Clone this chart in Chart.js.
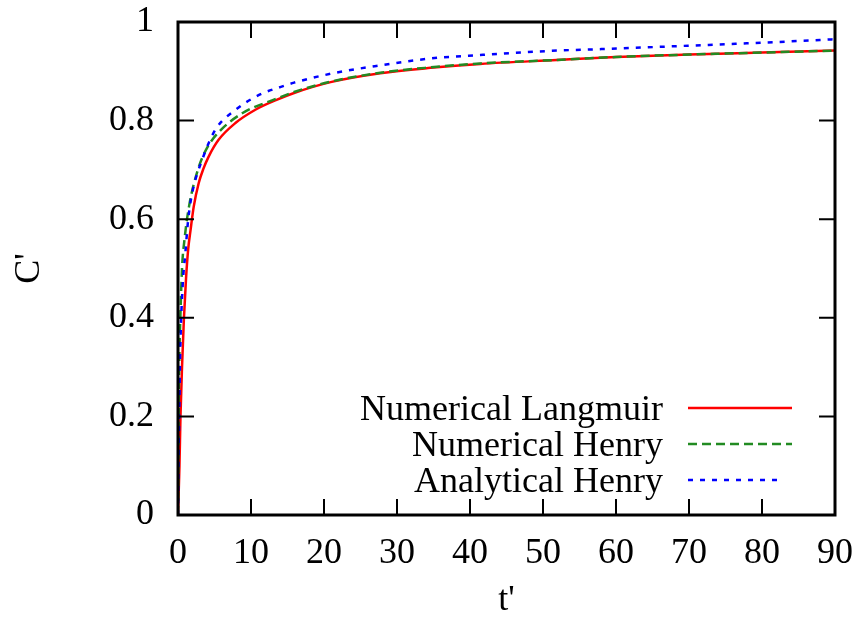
<!DOCTYPE html>
<html>
<head>
<meta charset="utf-8">
<script src="https://cdn.jsdelivr.net/npm/chart.js@4/dist/chart.umd.min.js"></script>
<style>
  html, body { margin: 0; padding: 0; background: #fff; }
  #wrap { width: 860px; height: 619px; }
</style>
</head>
<body>
<div id="wrap"><canvas id="concChart"></canvas></div>
<script>
// t' values and C' values
const tLangmuir = [0, 0.1, 0.2, 0.34, 0.55, 0.8, 1.1, 1.4, 1.72, 2.15, 2.83, 3.5, 4.2, 5.56, 7.86, 10.6, 13.5, 15.9, 20.9, 27.7, 34.6, 41.4, 51.9, 60, 70, 80, 90];
const cLangmuir = [0, 0.05, 0.1, 0.2, 0.3, 0.395, 0.48, 0.54, 0.578, 0.625, 0.673, 0.703, 0.727, 0.761, 0.795, 0.822, 0.842, 0.856, 0.878, 0.896, 0.907, 0.915, 0.923, 0.929, 0.934, 0.938, 0.942];

const tHenryNum = [0, 0.05, 0.1, 0.2, 0.3, 0.55, 0.9, 1.5, 2.85, 4, 5.6, 8.8, 13.4, 15.9, 20.9, 27.7, 34.6, 41.4, 51.9, 60, 70, 80, 90];
const cHenryNum = [0, 0.1, 0.22, 0.33, 0.39, 0.5, 0.56, 0.625, 0.706, 0.745, 0.777, 0.815, 0.844, 0.858, 0.879, 0.897, 0.908, 0.916, 0.923, 0.929, 0.934, 0.938, 0.942];

const tHenryAna = [0, 0.08, 0.15, 0.3, 0.63, 1.0, 1.4, 1.94, 3.3, 5.1, 7.9, 11.1, 14, 15.9, 20.9, 27.7, 34.6, 41.4, 51.9, 58, 70, 80, 90];
const cHenryAna = [0, 0.12, 0.19, 0.33, 0.463, 0.53, 0.6, 0.653, 0.72, 0.781, 0.822, 0.852, 0.868, 0.877, 0.895, 0.912, 0.926, 0.933, 0.942, 0.945, 0.952, 0.958, 0.965];

const seriesLabels = ['Numerical Langmuir', 'Numerical Henry', 'Analytical Henry'];
const xTicks = [0, 10, 20, 30, 40, 50, 60, 70, 80, 90];
const yTicks = [0, 0.2, 0.4, 0.6, 0.8, 1];

const FONT = "'Liberation Serif', 'Times New Roman', serif";
const FSIZE = 36;

function toPoints(ts, cs) {
    return ts.map((t, i) => ({ x: t, y: cs[i] }));
}

// gnuplot-style frame with inward ticks on all four sides
const frameTicks = {
    id: 'frameTicks',
    afterDatasetsDraw(chart) {
        const { ctx, chartArea: a, scales: { x, y } } = chart;
        const len = 16;
        ctx.save();
        ctx.strokeStyle = '#000';
        ctx.lineWidth = 2;
        ctx.beginPath();
        xTicks.forEach(v => {
            const px = x.getPixelForValue(v);
            ctx.moveTo(px, a.bottom); ctx.lineTo(px, a.bottom - len);
            ctx.moveTo(px, a.top); ctx.lineTo(px, a.top + len);
        });
        yTicks.forEach(v => {
            const py = y.getPixelForValue(v);
            ctx.moveTo(a.left, py); ctx.lineTo(a.left + len, py);
            ctx.moveTo(a.right, py); ctx.lineTo(a.right - len, py);
        });
        ctx.stroke();
        ctx.lineWidth = 3;
        ctx.strokeRect(a.left, a.top, a.right - a.left, a.bottom - a.top);
        ctx.restore();
    }
};

// key in the lower right, text right-aligned before the line sample
const keyBox = {
    id: 'keyBox',
    afterDraw(chart) {
        const { ctx, chartArea: a } = chart;
        const textRight = a.right - 172;
        const lineStart = a.right - 147;
        const lineEnd = a.right - 43;
        ctx.save();
        ctx.font = FSIZE + 'px ' + FONT;
        ctx.textAlign = 'right';
        ctx.textBaseline = 'alphabetic';
        chart.data.datasets.forEach((ds, i) => {
            const yl = a.bottom - 107 + i * 36;
            ctx.fillStyle = '#000';
            ctx.fillText(ds.label, textRight, yl + 12);
            ctx.strokeStyle = ds.borderColor;
            ctx.lineWidth = ds.borderWidth;
            ctx.setLineDash(ds.borderDash || []);
            ctx.beginPath();
            ctx.moveTo(lineStart, yl);
            ctx.lineTo(i === 2 ? lineEnd - 9 : lineEnd, yl);
            ctx.stroke();
        });
        ctx.restore();
    }
};

document.addEventListener('DOMContentLoaded', function () {
    const ctx = document.getElementById('concChart');
    new Chart(ctx, {
        type: 'line',
        data: {
            datasets: [{
                label: seriesLabels[0],
                data: toPoints(tLangmuir, cLangmuir),
                borderColor: '#ff0000',
                borderWidth: 2.5,
                order: 3
            }, {
                label: seriesLabels[1],
                data: toPoints(tHenryNum, cHenryNum),
                borderColor: '#228b22',
                borderWidth: 2.5,
                borderDash: [9, 5],
                order: 2
            }, {
                label: seriesLabels[2],
                data: toPoints(tHenryAna, cHenryAna),
                borderColor: '#0000ff',
                borderWidth: 2.5,
                borderDash: [5, 7],
                order: 1
            }]
        },
        options: {
            responsive: true,
            maintainAspectRatio: false,
            animation: false,
            events: [],
            elements: {
                point: { radius: 0 },
                line: { cubicInterpolationMode: 'monotone', fill: false }
            },
            layout: { padding: { left: 0, top: 22, right: 25, bottom: 0 } },
            plugins: {
                legend: { display: false },
                tooltip: { enabled: false }
            },
            scales: {
                x: {
                    type: 'linear',
                    min: 0,
                    max: 90,
                    afterFit: function (scale) {
                        scale.height = 104;
                        scale.paddingLeft = 0;
                        scale.paddingRight = 0;
                    },
                    afterBuildTicks: function (scale) {
                        scale.ticks = xTicks.map(v => ({ value: v }));
                    },
                    grid: { display: false, drawTicks: false },
                    border: { display: false },
                    ticks: {
                        padding: 17,
                        color: '#000',
                        maxRotation: 0,
                        autoSkip: false,
                        font: { family: FONT, size: FSIZE }
                    },
                    title: {
                        display: true,
                        text: "t'",
                        color: '#000',
                        padding: 0,
                        font: { family: FONT, size: FSIZE, lineHeight: 1 }
                    }
                },
                y: {
                    type: 'linear',
                    min: 0,
                    max: 1,
                    afterFit: function (scale) {
                        scale.width = 178;
                        scale.paddingTop = 0;
                        scale.paddingBottom = 0;
                    },
                    afterBuildTicks: function (scale) {
                        scale.ticks = yTicks.map(v => ({ value: v }));
                    },
                    grid: { display: false, drawTicks: false },
                    border: { display: false },
                    ticks: {
                        padding: 24,
                        color: '#000',
                        autoSkip: false,
                        font: { family: FONT, size: FSIZE },
                        callback: function (value) { return String(value); }
                    },
                    title: {
                        display: true,
                        text: "C'",
                        color: '#000',
                        padding: { top: 12, bottom: 0 },
                        font: { family: FONT, size: FSIZE, lineHeight: 1 }
                    }
                }
            }
        },
        plugins: [frameTicks, keyBox]
    });
});
</script>
</body>
</html>
